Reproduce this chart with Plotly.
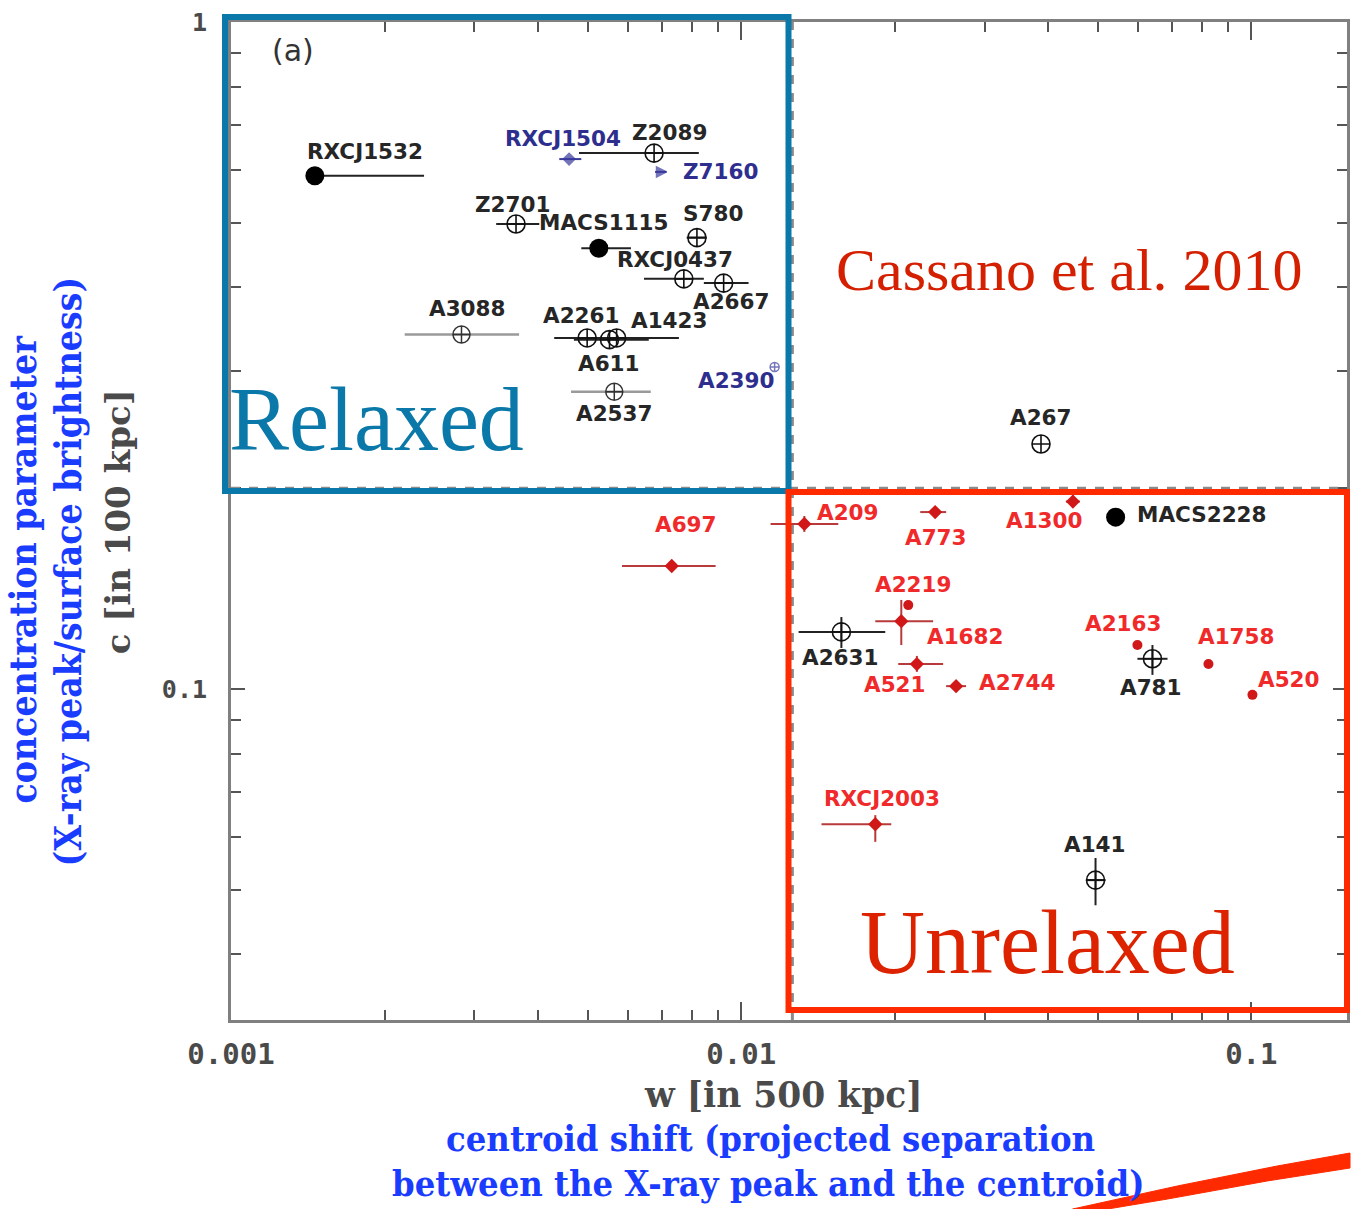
import math
import plotly.graph_objects as go

# ---------------- data ----------------
# black filled circles
filled_names = ["RXCJ1532", "MACS1115", "MACS2228"]
filled_w = [0.00146, 0.00526, 0.0542]
filled_c = [0.588, 0.458, 0.181]
filled_wlo = [0.00146, 0.00486, 0.0542]
filled_whi = [0.00239, 0.00608, 0.0542]

# black open circles with cross
open_names = ["Z2089", "Z2701", "S780", "RXCJ0437", "A2667", "A2261", "A611", "A1423",
              "A267", "A2631", "A781", "A141"]
open_w = [0.00675, 0.00362, 0.00819, 0.00772, 0.00924, 0.00499, 0.00552, 0.00570,
          0.0387, 0.01572, 0.0640, 0.0495]
open_c = [0.636, 0.498, 0.475, 0.412, 0.406, 0.336, 0.334, 0.336,
          0.233, 0.1218, 0.111, 0.0517]
open_wlo = [0.00481, 0.00331, 0.00782, 0.00645, 0.00845, 0.00430, 0.00470, 0.00481,
            0.0387, 0.01296, 0.0598, 0.0474]
open_whi = [0.00826, 0.00402, 0.00856, 0.00845, 0.01034, 0.00630, 0.00659, 0.00755,
            0.0387, 0.01916, 0.0685, 0.0518]
open_clo = [0.636, 0.498, 0.475, 0.412, 0.406, 0.336, 0.334, 0.336,
            0.233, 0.1152, 0.105, 0.0474]
open_chi = [0.636, 0.498, 0.475, 0.412, 0.406, 0.336, 0.334, 0.336,
            0.233, 0.1282, 0.1164, 0.0558]

# grey open circles
grey_names = ["A3088", "A2537"]
grey_w = [0.00283, 0.00564]
grey_c = [0.340, 0.279]
grey_wlo = [0.00219, 0.00464]
grey_whi = [0.00367, 0.00665]

# blue symbols
blue_names = ["RXCJ1504", "Z7160", "A2390"]
blue_w = [0.0046, 0.00714, 0.01163]
blue_c = [0.623, 0.596, 0.304]
blue_wlo = [0.0044, 0.00678, 0.01163]
blue_whi = [0.00486, 0.00714, 0.01163]

# red diamonds
red_names = ["A697", "A209", "A773", "A1300", "A1682", "A521", "A2744", "RXCJ2003"]
red_w = [0.00731, 0.0133, 0.0240, 0.0447, 0.0206, 0.0221, 0.02638, 0.01832]
red_c = [0.1529, 0.1768, 0.1842, 0.191, 0.1264, 0.109, 0.101, 0.0627]
red_wlo = [0.00584, 0.01142, 0.02244, 0.0433, 0.01832, 0.02032, 0.02522, 0.01437]
red_whi = [0.00891, 0.0155, 0.02522, 0.0461, 0.02378, 0.02488, 0.0276, 0.01969]
red_clo = [0.1529, 0.172, 0.1842, 0.1875, 0.1164, 0.1061, 0.101, 0.059]
red_chi = [0.1529, 0.1817, 0.1842, 0.1954, 0.136, 0.1121, 0.101, 0.0647]

# red dots
dot_names = ["A2219", "A2163", "A1758", "A520"]
dot_w = [0.02126, 0.0598, 0.0824, 0.1005]
dot_c = [0.1336, 0.1164, 0.109, 0.098]

# thresholds
w_cut = 0.0126
c_cut = 0.2

x_major = [0.001, 0.01, 0.1]
x_major_text = ["0.001", "0.01", "0.1"]
y_major = [0.1, 1]
y_major_text = ["0.1", "1"]

# ---------------- layout constants ----------------
W, H = 1353, 1209
L, R, T, B = 231, 3, 22, 189
PW, PH = W - L - R, H - T - B


def px(xp):
    return (xp - L) / PW


def py(yp):
    return (H - B - yp) / PH


def err(v, lo, hi):
    return [hh - vv for vv, hh in zip(v, hi)], [vv - ll for vv, ll in zip(v, lo)]


fig = go.Figure()

# threshold dashed lines
fig.add_shape(type="line", xref="x", yref="paper", x0=w_cut, x1=w_cut, y0=0, y1=1,
              line=dict(color="#8a8a8a", width=3, dash="dash"))
fig.add_shape(type="line", xref="paper", yref="y", x0=0, x1=1, y0=c_cut, y1=c_cut,
              line=dict(color="#8a8a8a", width=3, dash="dash"))

# grey
ep, em = err(grey_w, grey_wlo, grey_whi)
fig.add_trace(go.Scatter(x=grey_w, y=grey_c, mode="markers",
                         marker=dict(symbol="circle-cross-open", size=17, color="#333",
                                     line=dict(width=1.5)),
                         error_x=dict(type="data", symmetric=False, array=ep, arrayminus=em,
                                      color="#9a9a9a", thickness=2.5, width=0)))
# black open
ep, em = err(open_w, open_wlo, open_whi)
cp, cm = err(open_c, open_clo, open_chi)
fig.add_trace(go.Scatter(x=open_w, y=open_c, mode="markers",
                         marker=dict(symbol="circle-cross-open", size=18, color="#111",
                                     line=dict(width=1.6)),
                         error_x=dict(type="data", symmetric=False, array=ep, arrayminus=em,
                                      color="#222", thickness=2, width=0),
                         error_y=dict(type="data", symmetric=False, array=cp, arrayminus=cm,
                                      color="#222", thickness=2, width=0)))
# black filled
ep, em = err(filled_w, filled_wlo, filled_whi)
fig.add_trace(go.Scatter(x=filled_w, y=filled_c, mode="markers",
                         marker=dict(symbol="circle", size=19, color="#000"),
                         error_x=dict(type="data", symmetric=False, array=ep, arrayminus=em,
                                      color="#222", thickness=2, width=0)))
# blue
ep, em = err(blue_w, blue_wlo, blue_whi)
fig.add_trace(go.Scatter(x=blue_w, y=blue_c, mode="markers",
                         marker=dict(symbol=["diamond", "arrow-right", "circle-cross-open"],
                                     size=[9, 10, 9], color="#3a3a9c",
                                     line=dict(width=1.5, color="#3a3a9c")),
                         error_x=dict(type="data", symmetric=False, array=ep, arrayminus=em,
                                      color="#3a3a9c", thickness=2, width=0)))
# red diamonds
ep, em = err(red_w, red_wlo, red_whi)
cp, cm = err(red_c, red_clo, red_chi)
fig.add_trace(go.Scatter(x=red_w, y=red_c, mode="markers",
                         marker=dict(symbol="diamond", size=11, color="#d01818"),
                         error_x=dict(type="data", symmetric=False, array=ep, arrayminus=em,
                                      color="#b83a3a", thickness=2, width=0),
                         error_y=dict(type="data", symmetric=False, array=cp, arrayminus=cm,
                                      color="#b83a3a", thickness=2, width=0)))
# red dots
fig.add_trace(go.Scatter(x=dot_w, y=dot_c, mode="markers",
                         marker=dict(symbol="circle", size=10, color="#d01818")))

# ---------------- point labels ----------------
label_offset = {
    "RXCJ1532": (50, -24), "MACS1115": (5, -26), "MACS2228": (86, -3),
    "Z2089": (15, -21), "Z2701": (-4, -19), "S780": (16, -24), "RXCJ0437": (-9, -19),
    "A2667": (7, 18), "A2261": (-6, -22), "A611": (-1, 24), "A1423": (52, -17),
    "A267": (0, -26), "A2631": (-1, 26), "A781": (-1, 29), "A141": (-1, -36),
    "A3088": (6, -26), "A2537": (0, 22),
    "RXCJ1504": (-6, -21), "Z7160": (54, 0), "A2390": (-39, 14),
    "A697": (14, -42), "A209": (44, -11), "A773": (1, 25), "A1300": (-29, 19),
    "A1682": (64, 15), "A521": (-22, 20), "A2744": (61, -4), "RXCJ2003": (7, -26),
    "A2219": (5, -21), "A2163": (-14, -22), "A1758": (28, -28), "A520": (37, -15),
}
label_font = dict(family="DejaVu Sans", size=21.5, weight="bold")
groups = [
    (filled_names, filled_w, filled_c, "#262626"),
    (open_names, open_w, open_c, "#262626"),
    (grey_names, grey_w, grey_c, "#262626"),
    (blue_names, blue_w, blue_c, "#2e2e8e"),
    (red_names, red_w, red_c, "#f02a2a"),
    (dot_names, dot_w, dot_c, "#f02a2a"),
]
for names, ws, cs, col in groups:
    for n, wv, cv in zip(names, ws, cs):
        dx, dy = label_offset[n]
        fig.add_annotation(x=math.log10(wv), y=math.log10(cv), xref="x", yref="y",
                           text=n, showarrow=False, xshift=dx, yshift=-dy,
                           font=dict(label_font, color=col))

# ---------------- boxes ----------------
fig.add_shape(type="rect", xref="paper", yref="paper",
              x0=px(225), x1=px(790), y0=py(491), y1=py(17),
              line=dict(color="#0a78a8", width=6))
fig.add_shape(type="rect", xref="paper", yref="paper",
              x0=px(790), x1=px(1350), y0=py(1010), y1=py(492),
              line=dict(color="#ff2a00", width=6))

# red brush stroke bottom-right
stroke = [(1075, 1209), (1180, 1186), (1280, 1166), (1353, 1153), (1353, 1168),
          (1270, 1181), (1170, 1199), (1110, 1209)]
path = "M " + " L ".join(f"{px(a):.4f},{py(b):.4f}" for a, b in stroke) + " Z"
fig.add_shape(type="path", xref="paper", yref="paper", path=path,
              fillcolor="#ff2a00", line=dict(color="#ff2a00", width=1))

# ---------------- texts ----------------
def txt(s, x, y, size, color, family, angle=0, weight="normal"):
    fig.add_annotation(x=px(x), y=py(y), xref="paper", yref="paper", text=s,
                       showarrow=False, textangle=angle, xanchor="center", yanchor="middle",
                       font=dict(family=family, size=size, color=color, weight=weight))

txt("Relaxed", 377, 420, 90, "#0a78a8", "Liberation Serif")
txt("Unrelaxed", 1050, 942, 90, "#dd2200", "Liberation Serif")
txt("Cassano et al. 2010", 1072, 270, 60, "#d42000", "Liberation Serif")
txt("(a)", 293, 50, 30, "#333", "DejaVu Sans")
txt("w [in 500 kpc]", 785, 1095, 34.5, "#4a4a4a", "DejaVu Serif", weight="bold")
txt("c [in 100 kpc]", 118, 522, 34, "#4a4a4a", "DejaVu Serif", angle=-90, weight="bold")
txt("centroid shift (projected separation", 772, 1138, 36, "#1a3cff",
    "DejaVu Serif Condensed", weight="bold")
txt("between the X-ray peak and the centroid)", 770, 1183, 36, "#1a3cff",
    "DejaVu Serif Condensed", weight="bold")
txt("concentration parameter", 22, 570, 37, "#1a3cff", "DejaVu Serif Condensed",
    angle=-90, weight="bold")
txt("(X-ray peak/surface brightness)", 68, 571, 37, "#1a3cff", "DejaVu Serif Condensed",
    angle=-90, weight="bold")

# ---------------- axes ----------------
x_minor = [m * d for d in (0.001, 0.01, 0.1) for m in range(2, 10) if m * d < 0.16]
y_minor = [m * d for d in (0.01, 0.1) for m in range(2, 10) if m * d > 0.031]

fig.update_xaxes(type="log", range=[-3, math.log10(0.154)], showgrid=False, zeroline=False,
                 showline=True, linecolor="#808080", linewidth=3, mirror="ticks",
                 ticks="inside", ticklen=18, tickwidth=2, tickcolor="#555",
                 tickvals=x_major, ticktext=x_major_text, ticklabelstandoff=6,
                 tickfont=dict(family="DejaVu Sans Mono", size=29, color="#4a4a4a",
                               weight="bold"),
                 minor=dict(tickvals=x_minor, ticks="inside", ticklen=10, tickwidth=2,
                            tickcolor="#555", showgrid=False))
fig.update_yaxes(type="log", range=[math.log10(0.0319), 0], showgrid=False, zeroline=False,
                 showline=True, linecolor="#808080", linewidth=3, mirror="ticks",
                 ticks="inside", ticklen=14, tickwidth=2, tickcolor="#555",
                 tickvals=y_major, ticktext=y_major_text, ticklabelstandoff=16,
                 tickfont=dict(family="DejaVu Sans Mono", size=25, color="#4a4a4a",
                               weight="bold"),
                 minor=dict(tickvals=y_minor, ticks="inside", ticklen=10, tickwidth=2,
                            tickcolor="#555", showgrid=False))

fig.update_layout(width=W, height=H, margin=dict(l=L, r=R, t=T, b=B),
                  paper_bgcolor="white", plot_bgcolor="white", showlegend=False)

fig.write_html("out.html")
